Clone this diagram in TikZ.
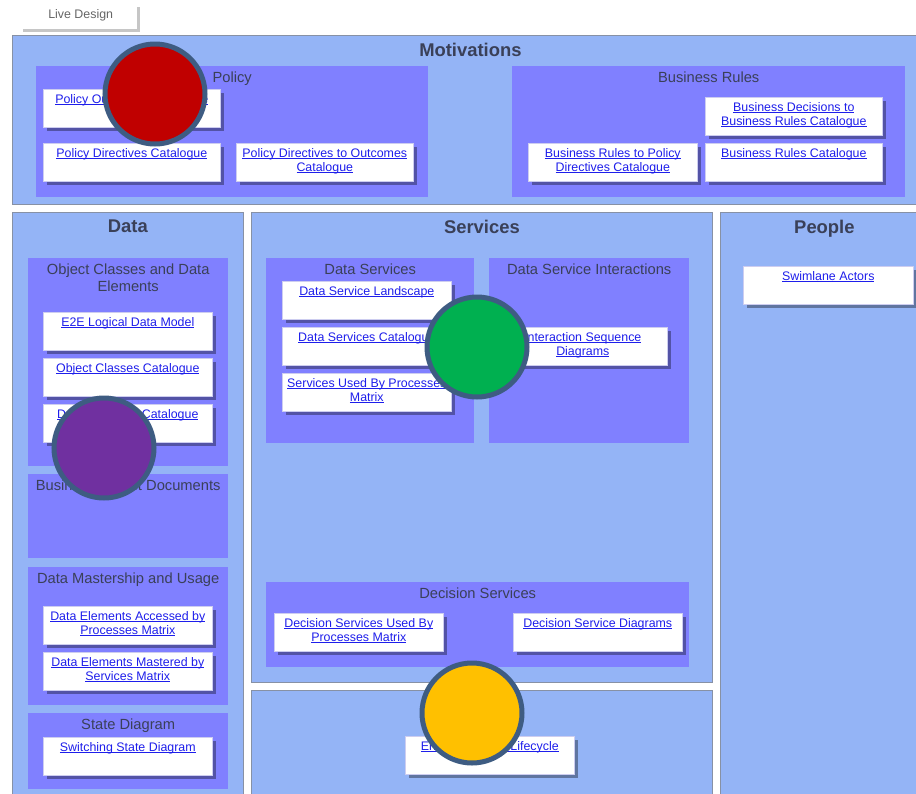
\documentclass[tikz,border=0pt]{standalone}
\usepackage{fontspec}
\setmainfont{Liberation Sans}
\usetikzlibrary{positioning,shadows}

\definecolor{paneblue}{RGB}{148,180,246}
\definecolor{paneedge}{RGB}{135,145,165}
\definecolor{grouppurple}{RGB}{128,128,255}
\definecolor{cardedge}{RGB}{205,205,240}
\definecolor{headgray}{RGB}{58,64,88}
\definecolor{linkblue}{RGB}{30,30,235}
\definecolor{dotedge}{RGB}{62,92,130}
\definecolor{dotred}{RGB}{192,0,0}
\definecolor{dotpurple}{RGB}{112,48,160}
\definecolor{dotgreen}{RGB}{0,176,80}
\definecolor{dotyellow}{RGB}{255,192,0}

% underlined link text, rule runs through the descenders
\newsavebox{\lnkbox}
\newcommand{\lnk}[1]{\sbox{\lnkbox}{#1}\rlap{\usebox{\lnkbox}}\rule[-1.6pt]{\wd\lnkbox}{0.6pt}}

\tikzset{
  pane/.style={rectangle, anchor=north west, fill=paneblue, draw=paneedge,
    line width=0.8pt, inner sep=0pt},
  group/.style={rectangle, anchor=north west, fill=grouppurple, inner sep=0pt},
  card/.style={rectangle, anchor=north west, fill=white, draw=cardedge,
    line width=0.6pt, inner sep=0pt, minimum width=169pt, minimum height=38pt,
    drop shadow={shadow xshift=3.5pt, shadow yshift=-3.5pt, opacity=0.35, fill=black}},
  panetitle/.style={anchor=north, yshift=-8pt, inner sep=0pt,
    font=\fontsize{18.4}{20}\selectfont\bfseries, text=headgray},
  grouptitle/.style={anchor=north, yshift=-5.5pt, inner sep=0pt, align=center,
    font=\fontsize{14.7}{17}\selectfont, text=headgray},
  link/.style={anchor=north, yshift=-5pt, inner sep=0pt, align=center,
    font=\fontsize{12.4}{14}\selectfont, text=linkblue},
  dot/.style={circle, draw=dotedge, line width=5pt, minimum size=100pt, inner sep=0pt},
  tabedge/.style={draw=gray!45, line width=3pt}
}

\begin{document}
\begin{tikzpicture}[x=1pt,y=-1pt]
  \useasboundingbox (0,0) rectangle (916,793);
  \fill[white] (0,0) rectangle (916,793);
  \clip (0,0) rectangle (916,793);

  % tab
  \node[rectangle, anchor=north west, fill=white, inner sep=0pt,
    minimum width=115pt, minimum height=23pt,
    label={[anchor=north, yshift=-2.5pt, inner sep=0pt, text=gray!80!black,
      font=\fontsize{12.4}{14}\selectfont]north:Live Design}] (tab) at (23,7) {};
  \draw[tabedge] (tab.north east) -- (tab.south east) -- (tab.south west);

  % panes
  \node[pane, minimum width=916pt, minimum height=169pt,
    label={[panetitle]north:Motivations}] (motivations) at (12,35) {};
  \node[pane, minimum width=231pt, minimum height=600pt,
    label={[panetitle]north:Data}] (data) at (12,212) {};
  \node[pane, minimum width=461pt, minimum height=470pt,
    label={[panetitle]north:Services}] (services) at (251,212) {};
  \node[pane, minimum width=461pt, minimum height=120pt] (lower) at (251,690) {};
  \node[pane, minimum width=208pt, minimum height=600pt,
    label={[panetitle]north:People}] (people) at (720,212) {};

  % groups
  \node[group, minimum width=392pt, minimum height=131pt,
    label={[grouptitle]north:Policy}] (policy) at (36,66) {};
  \node[group, minimum width=393pt, minimum height=131pt,
    label={[grouptitle]north:Business Rules}] (rules) at (512,66) {};
  \node[group, minimum width=200pt, minimum height=208pt,
    label={[grouptitle]north:{Object Classes and Data\\Elements}}] (objclasses) at (28,258) {};
  \node[group, minimum width=200pt, minimum height=84pt,
    label={[grouptitle]north:Business Object Documents}] (bizdocs) at (28,474) {};
  \node[group, minimum width=200pt, minimum height=138pt,
    label={[grouptitle]north:Data Mastership and Usage}] (mastership) at (28,567) {};
  \node[group, minimum width=200pt, minimum height=76pt,
    label={[grouptitle]north:State Diagram}] (statediag) at (28,713) {};
  \node[group, minimum width=208pt, minimum height=185pt,
    label={[grouptitle]north:Data Services}] (dataserv) at (266,258) {};
  \node[group, minimum width=200pt, minimum height=185pt,
    label={[grouptitle]north:Data Service Interactions}] (interact) at (489,258) {};
  \node[group, minimum width=423pt, minimum height=85pt,
    label={[grouptitle]north:Decision Services}] (decision) at (266,582) {};

  % cards
  \node[card, minimum width=177pt,
    label={[link]north:\lnk{Policy Outcomes Catalogue}}] (polOut) at (43,89) {};
  \node[card, minimum width=177pt,
    label={[link]north:\lnk{Policy Directives Catalogue}}] (polDir) at (43,143) {};
  \node[card, minimum width=177pt,
    label={[link]north:{\lnk{Policy Directives to Outcomes}\\\lnk{Catalogue}}}] (polDirOut) at (236,143) {};

  \node[card, minimum width=177pt,
    label={[link]north:{\lnk{Business Decisions to}\\\lnk{Business Rules Catalogue}}}] (bizDec) at (705,97) {};
  \node[card,
    label={[link]north:{\lnk{Business Rules to Policy}\\\lnk{Directives Catalogue}}}] (bizPol) at (528,143) {};
  \node[card, minimum width=177pt,
    label={[link]north:\lnk{Business Rules Catalogue}}] (bizCat) at (705,143) {};

  \node[card, label={[link]north:\lnk{E2E Logical Data Model}}] (e2e) at (43,312) {};
  \node[card, label={[link]north:\lnk{Object Classes Catalogue}}] (objCat) at (43,358) {};
  \node[card, label={[link]north:\lnk{Data Elements Catalogue}}] (elemCat) at (43,404) {};
  \node[card, label={[link]north:{\lnk{Data Elements Accessed by}\\\lnk{Processes Matrix}}}] (accessed) at (43,606) {};
  \node[card, label={[link]north:{\lnk{Data Elements Mastered by}\\\lnk{Services Matrix}}}] (mastered) at (43,652) {};
  \node[card, label={[link]north:\lnk{Switching State Diagram}}] (switching) at (43,737) {};

  \node[card, label={[link]north:\lnk{Data Service Landscape}}] (landscape) at (282,281) {};
  \node[card, label={[link]north:\lnk{Data Services Catalogue}}] (servCat) at (282,327) {};
  \node[card, label={[link]north:{\lnk{Services Used By Processes}\\\lnk{Matrix}}}] (servUsed) at (282,373) {};
  \node[card, label={[link]north:{\lnk{Interaction Sequence}\\\lnk{Diagrams}}}] (sequence) at (498,327) {};
  \node[card, label={[link]north:{\lnk{Decision Services Used By}\\\lnk{Processes Matrix}}}] (decUsed) at (274,613) {};
  \node[card, label={[link]north:\lnk{Decision Service Diagrams}}] (decDiag) at (513,613) {};
  \node[card, label={[link]north:\lnk{Enterprise Data Lifecycle}}] (lifecycle) at (405,736) {};

  \node[card, minimum width=170pt, label={[link]north:\lnk{Swimlane Actors}}] (swimlane) at (743,266) {};

  % status dots
  \node[dot, fill=dotred] (redDot) at (155,94) {};
  \node[dot, fill=dotpurple] (purpleDot) at (104,448) {};
  \node[dot, fill=dotgreen] (greenDot) at (477,347) {};
  \node[dot, fill=dotyellow] (yellowDot) at (472,713) {};
\end{tikzpicture}
\end{document}
